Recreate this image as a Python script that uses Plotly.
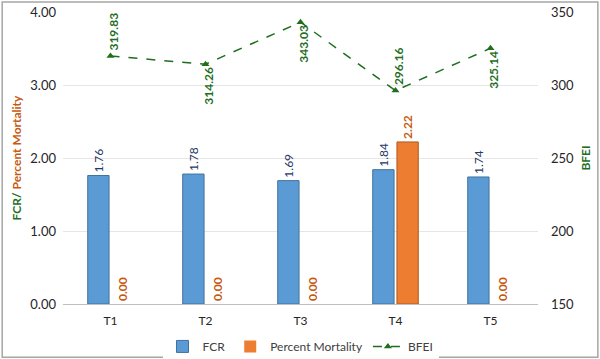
import plotly.graph_objects as go

categories = ["T1", "T2", "T3", "T4", "T5"]
fcr = [1.76, 1.78, 1.69, 1.84, 1.74]
mortality = [0.00, 0.00, 0.00, 2.22, 0.00]
bfei = [319.83, 314.26, 343.03, 296.16, 325.14]
bfei_label_side = ["above", "below", "below", "above", "below"]

FONT = "Lato"
BLUE = "#5B9BD5"
ORANGE = "#ED7D31"
GREEN = "#1E6E1E"
NAVY = "#1F3864"
RUST = "#C55A11"

fig = go.Figure()
fig.add_trace(go.Bar(
    x=categories, y=fcr, name="FCR",
    marker=dict(color=BLUE, line=dict(color="#41719C", width=1)),
    texttemplate="%{y:.2f}", textposition="outside", textangle=-90,
    textfont=dict(color=NAVY, size=12, family=FONT),
    constraintext="none", cliponaxis=False,
))
fig.add_trace(go.Bar(
    x=categories, y=mortality, name="Percent Mortality",
    marker=dict(color=ORANGE,
                line=dict(color="#AE5A21", width=[1 if v > 0 else 0 for v in mortality])),
    texttemplate="<b>%{y:.2f}</b>", textposition="outside", textangle=-90,
    textfont=dict(color=RUST, size=12, family=FONT),
    constraintext="none", cliponaxis=False,
))
fig.add_trace(go.Scatter(
    x=categories, y=bfei, name="BFEI", yaxis="y2", mode="lines+markers",
    line=dict(color=GREEN, width=1.5, dash="dash"),
    marker=dict(symbol="triangle-up", size=7, color=GREEN),
    cliponaxis=False,
))

annotations = []
for c, v, side in zip(categories, bfei, bfei_label_side):
    annotations.append(dict(
        x=c, y=v, xref="x", yref="y2", text="<b>%.2f</b>" % v,
        textangle=-90, showarrow=False,
        xanchor="center", yanchor="middle",
        xshift=3, yshift=24 if side == "above" else -22,
        font=dict(color=GREEN, size=12, family=FONT),
    ))

fig.update_layout(
    width=600, height=359,
    margin=dict(l=63, r=62, t=12, b=55, autoexpand=False),
    paper_bgcolor="white", plot_bgcolor="white",
    font=dict(family=FONT, size=13, color="#404040"),
    barmode="group", bargap=0.49, bargroupgap=0.12,
    showlegend=True,
    legend=dict(orientation="h", x=0.5, xanchor="center",
                yref="container", y=0.035, yanchor="middle",
                font=dict(size=12, color="#404040"), traceorder="normal"),
    xaxis=dict(showgrid=False, showline=True, linecolor="#BFBFBF", linewidth=1,
               ticks="", tickfont=dict(size=12, color="#262626"), ticklabelstandoff=6,
               automargin=False),
    yaxis=dict(range=[0, 4], dtick=1, tickformat=".2f", showgrid=True,
               gridcolor="#E6E6E6", gridwidth=1, zeroline=False, automargin=False,
               tickfont=dict(size=13, color="#262626"), ticklabelstandoff=6,
               title=dict(text="<b><span style='color:#1E6E1E'>FCR/</span> <span style='color:#C55A11'>Percent Mortality</span></b>",
                          font=dict(size=12), standoff=6)),
    yaxis2=dict(range=[150, 350], dtick=50, overlaying="y", side="right",
                showgrid=False, zeroline=False, automargin=False,
                tickfont=dict(size=13, color="#262626"), ticklabelstandoff=12,
                title=dict(text="<b>BFEI</b>", font=dict(size=12, color=GREEN), standoff=8)),
    annotations=annotations,
    shapes=[dict(type="rect", xref="paper", yref="paper",
                 x0=-0.128, x1=1.126, y0=-0.182, y1=1.034,
                 line=dict(color="#A6A6A6", width=1.5), fillcolor="rgba(0,0,0,0)")],
)

fig.write_html("out.html", config={"displayModeBar": False},
               post_script="document.body.style.margin='0';")
